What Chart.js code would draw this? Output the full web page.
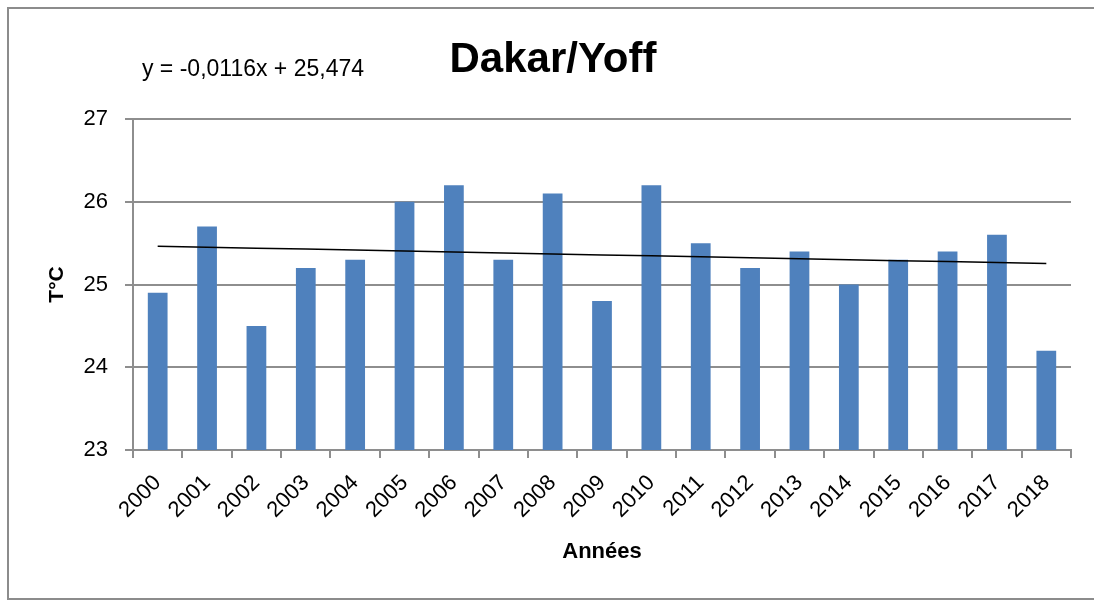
<!DOCTYPE html>
<html>
<head>
<meta charset="utf-8">
<script src="https://cdn.jsdelivr.net/npm/chart.js@4"></script>
<style>
  html, body { margin: 0; padding: 0; background: #fff; }
  #wrap { width: 1094px; height: 601px; position: relative; }
</style>
</head>
<body>
<div id="wrap"><canvas id="bar" width="1094" height="601"></canvas></div>
<script>
const years = ['2000','2001','2002','2003','2004','2005','2006','2007','2008','2009',
               '2010','2011','2012','2013','2014','2015','2016','2017','2018'];
const temps = [24.9, 25.7, 24.5, 25.2, 25.3, 26.0, 26.2, 25.3, 26.1, 24.8,
               26.2, 25.5, 25.2, 25.4, 25.0, 25.3, 25.4, 25.6, 24.2];
const yTicks = [23, 24, 25, 26, 27];

// linear trend as printed on the chart: y = -0,0116x + 25,474 (x = 1..n)
const slope = -0.0116;
const intercept = 25.474;
const trend = years.map((y, i) => slope * (i + 1) + intercept);

const FONT = "'Liberation Sans', Arial, sans-serif";
const gridColor = '#8e8e8e';

// titles + outer frame, drawn on the canvas
const decor = {
  id: 'decor',
  beforeDraw(chart) {
    const c = chart.ctx;
    c.save();
    c.fillStyle = '#fff';
    c.fillRect(0, 0, chart.width, chart.height);
    c.strokeStyle = '#8c8c8c';
    c.lineWidth = 2;
    c.strokeRect(8, 8, 1100, 591);
    c.restore();
  },
  afterDraw(chart) {
    const c = chart.ctx;
    const area = chart.chartArea;
    c.save();
    c.fillStyle = '#000';
    c.textAlign = 'center';
    c.textBaseline = 'middle';
    c.font = 'bold 42px ' + FONT;
    c.fillText('Dakar/Yoff', 553, 60);
    c.font = '23px ' + FONT;
    c.fillText('y = -0,0116x + 25,474', 253, 70);
    c.font = 'bold 22px ' + FONT;
    c.fillText('Années', 602, 552);
    c.font = 'bold 21px ' + FONT;
    c.translate(57, (area.top + area.bottom) / 2);
    c.rotate(-Math.PI / 2);
    c.fillText('T°C', 0, 0);
    c.restore();
  }
};

new Chart(document.getElementById('bar'), {
  data: {
    labels: years,
    datasets: [{
      type: 'bar',
      data: temps,
      backgroundColor: '#4f81bd',
      borderWidth: 0,
      barPercentage: 0.4,
      categoryPercentage: 1.0,
      order: 2
    }, {
      type: 'line',
      data: trend,
      borderColor: '#000',
      borderWidth: 1.5,
      pointRadius: 0,
      fill: false,
      order: 1
    }]
  },
  options: {
    responsive: false,
    animation: false,
    layout: { padding: { top: 119, right: 23, left: 0, bottom: 0 } },
    plugins: {
      legend: { display: false },
      tooltip: { enabled: false }
    },
    scales: {
      x: {
        offset: true,
        grid: {
          offset: true,
          drawOnChartArea: false,
          drawTicks: true,
          tickLength: 8,
          color: gridColor,
          lineWidth: 2
        },
        border: { color: gridColor, width: 2 },
        ticks: {
          color: '#000',
          font: { family: FONT, size: 22 },
          minRotation: 45,
          maxRotation: 45,
          padding: 12
        },
        afterFit(scale) { scale.height = 151; }
      },
      y: {
        min: 23,
        max: 27,
        afterBuildTicks(scale) { scale.ticks = yTicks.map(v => ({ value: v })); },
        grid: {
          color: gridColor,
          lineWidth: 2,
          tickLength: 8
        },
        border: { color: gridColor, width: 2 },
        ticks: {
          color: '#000',
          font: { family: FONT, size: 22 },
          padding: 17
        },
        afterFit(scale) { scale.width = 133; }
      }
    }
  },
  plugins: [decor]
});
</script>
</body>
</html>
